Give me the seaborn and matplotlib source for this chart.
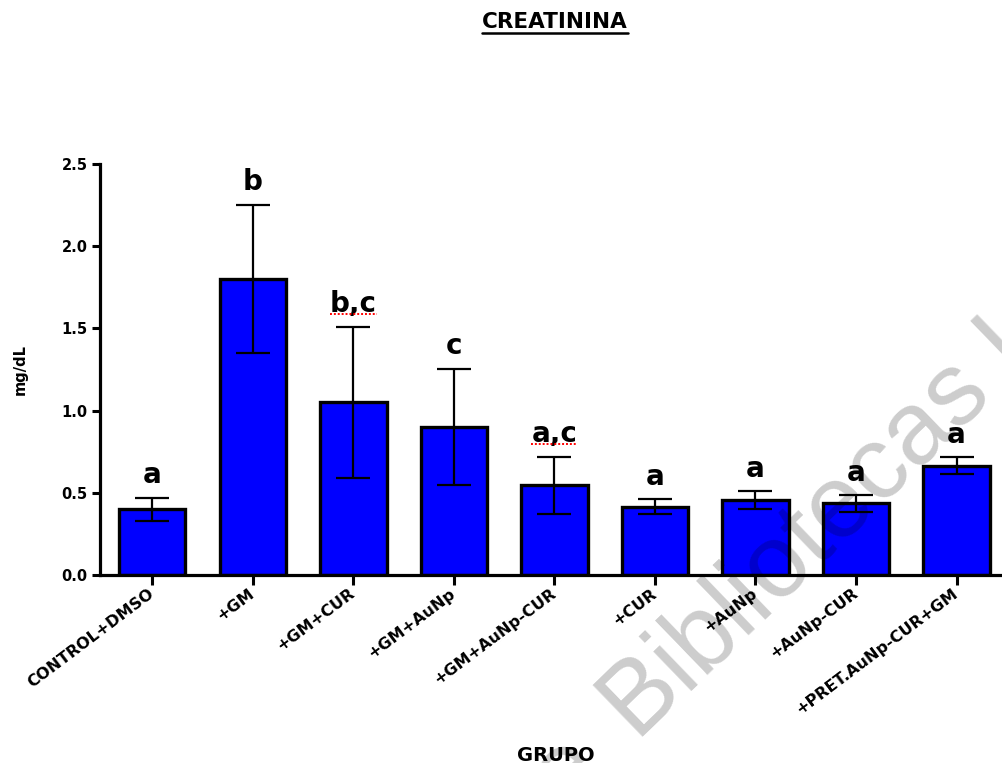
import numpy as np
import pandas as pd
import seaborn as sns
import matplotlib.pyplot as plt
from matplotlib.lines import Line2D

# datos (media y error por grupo)
grupos = ["CONTROL+DMSO", "+GM", "+GM+CUR", "+GM+AuNp", "+GM+AuNp-CUR",
          "+CUR", "+AuNp", "+AuNp-CUR", "+PRET.AuNp-CUR+GM"]
medias = [0.40, 1.80, 1.05, 0.90, 0.545, 0.415, 0.455, 0.435, 0.665]
errores = [0.07, 0.45, 0.46, 0.355, 0.175, 0.045, 0.055, 0.05, 0.05]
letras = ["a", "b", "b,c", "c", "a,c", "a", "a", "a", "a"]
y_ticks = [0.0, 0.5, 1.0, 1.5, 2.0, 2.5]

sns.set_style("ticks")
plt.rcParams["font.family"] = ["DejaVu Sans"]
plt.rcParams["font.weight"] = "bold"
for k in ["text.color", "axes.labelcolor", "xtick.color", "ytick.color", "axes.edgecolor"]:
    plt.rcParams[k] = "black"

df = pd.DataFrame({"grupo": grupos, "media": medias})

fig = plt.figure(figsize=(10.02, 7.63), dpi=100)
ax = fig.add_axes([0.0998, 0.2464, 0.910, 0.5387])

sns.barplot(data=df, x="grupo", y="media", color="#0000ff", saturation=1,
            edgecolor="black", linewidth=2.4, width=0.66, ax=ax, zorder=2)
x = np.arange(len(grupos))
ax.errorbar(x, medias, yerr=errores, fmt="none", ecolor="black",
            elinewidth=1.6, capsize=12, capthick=1.6, zorder=3)

ax.set_xlim(-0.52, 8.55)
ax.set_ylim(0, 2.5)
ax.set_yticks(y_ticks)
ax.set_yticklabels([f"{v:.1f}" for v in y_ticks], fontsize=10.5, fontweight="bold")
ax.set_xticks(x)
ax.set_xticklabels(grupos, fontsize=11.5, fontweight="bold", rotation=37,
                   ha="right", va="center", rotation_mode="anchor")

sns.despine(ax=ax)
for s in ["left", "bottom"]:
    ax.spines[s].set_linewidth(2.3)
ax.tick_params(axis="both", width=2.2, length=6, pad=3, color="black")
ax.tick_params(axis="x", length=7, pad=5)

ax.set_xlabel("GRUPO", fontsize=14, fontweight="bold")
ax.set_ylabel("mg/dL", fontsize=10.5, fontweight="bold")
ax.xaxis.set_label_coords(0.5, -0.415)
ax.yaxis.set_label_coords(-0.079, 0.5)

# letras de significancia
textos = []
for i, (m, e, l) in enumerate(zip(medias, errores, letras)):
    t = ax.annotate(l, (i, m + e), xytext=(0, 10.5), textcoords="offset points",
                    ha="center", va="baseline", fontsize=20, fontweight="bold")
    textos.append(t)

titulo = fig.text(0.554, 0.971, "CREATININA", ha="center", va="center",
                  fontsize=15.5, fontweight="bold")

# marca de agua
wm_x, wm_y = 0.636, 0.0275
wm = dict(rotation=44, rotation_mode="anchor", va="baseline", fontsize=74,
          family="Liberation Sans", fontweight="normal", color="black",
          alpha=0.2, zorder=10)
fig.text(wm_x, wm_y, "Bibliotecas U", ha="left", **wm)
fig.text(wm_x - 0.03, wm_y - 0.038, "de", ha="right", **wm)

# subrayados
fig.canvas.draw()
r = fig.canvas.get_renderer()
bb = titulo.get_window_extent(r)
fig.add_artist(Line2D([bb.x0, bb.x1], [bb.y0 - 1, bb.y0 - 1], lw=1.8,
                      color="black", transform=None))
for i, t in enumerate(textos):
    if "," in letras[i]:
        tb = t.get_window_extent(r)
        yb = ax.transData.transform((i, medias[i] + errores[i]))[1] + 10.5 * 100 / 72 - 2
        fig.add_artist(Line2D([tb.x0, tb.x1], [yb, yb], lw=1.4, color="red",
                              linestyle=(0, (1, 1)), transform=None))

fig.savefig("out.png", dpi=100)
